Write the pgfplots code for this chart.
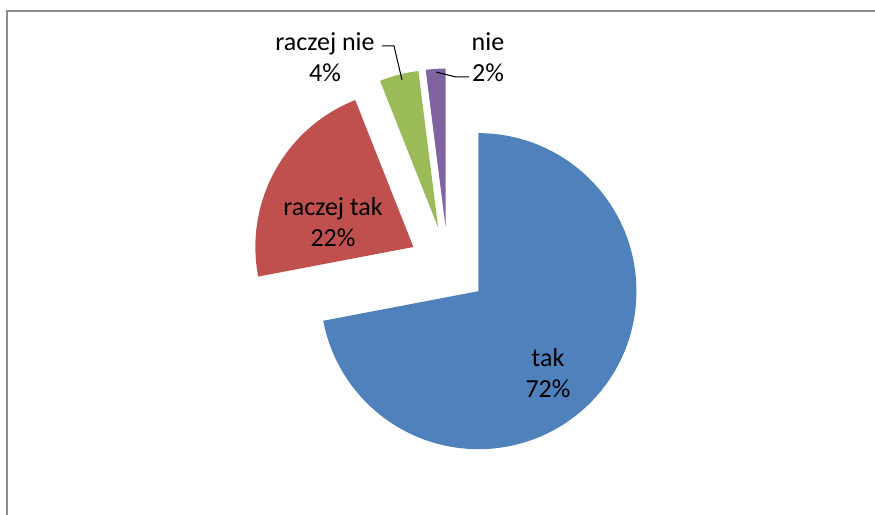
\documentclass[border=0pt]{standalone}
\usepackage{pgfplots}
\usepackage{pgfplotstable}
\usepackage{fontspec}
\setmainfont{Carlito}
\pgfplotsset{compat=1.18}
\definecolor{cTak}{HTML}{4F81BD}
\definecolor{cRT}{HTML}{C0504D}
\definecolor{cRN}{HTML}{9BBB59}
\definecolor{cNie}{HTML}{8064A2}
\definecolor{frame}{HTML}{8C8C8C}
% shares (percent) in drawing order: tak, raczej tak, raczej nie, nie
\pgfplotstableread{
value
72
22
4
2
}\piedata
\begin{document}
\begin{tikzpicture}
\begin{axis}[x=1bp,y=1bp,xmin=0,xmax=875,ymin=-515,ymax=0,hide axis,clip=false]
\pgfplotsextra{
  \path (axis cs:0,0) rectangle (axis cs:875,-515);
  \def\cx{448}\def\cy{-266}\def\ex{39.5}\def\r{158}
  \gdef\acc{90}
  \foreach \i/\col in {0/cTak,1/cRT,2/cRN,3/cNie}{
    \pgfplotstablegetelem{\i}{value}\of\piedata
    \pgfmathsetmacro\sa{\acc}
    \pgfmathsetmacro\ea{\acc-3.6*\pgfplotsretval}
    \pgfmathsetmacro\ma{(\sa+\ea)/2}
    \pgfmathsetmacro\px{\cx+\ex*cos(\ma)}
    \pgfmathsetmacro\py{\cy+\ex*sin(\ma)}
    \pgfmathsetmacro\qx{\px+\r*cos(\sa)}
    \pgfmathsetmacro\qy{\py+\r*sin(\sa)}
    \fill[\col] (axis cs:\px,\py) -- (axis cs:\qx,\qy) arc[start angle=\sa, end angle=\ea, radius=\r bp] -- cycle;
    \xdef\acc{\ea}
  }
  \draw[overlay,frame,line width=1.8bp] (axis cs:7,-515) -- (axis cs:7,-10.8) -- (axis cs:875,-10.8);
  \draw[black,line width=1bp] (axis cs:382,-46) -- (axis cs:394,-46) -- (axis cs:402,-80);
  \draw[black,line width=1bp] (axis cs:436,-72) -- (axis cs:456,-77) -- (axis cs:469,-77);
  \tikzset{lab/.style={align=center,font=\fontsize{26bp}{31bp}\selectfont,inner sep=0pt}}
  \node[lab] at (axis cs:548,-373) {tak\\72\%};
  \node[lab] at (axis cs:333,-222) {raczej tak\\22\%};
  \node[lab] at (axis cs:325,-57) {raczej nie\\4\%};
  \node[lab] at (axis cs:488,-57) {nie\\2\%};
}
\end{axis}
\end{tikzpicture}
\end{document}
